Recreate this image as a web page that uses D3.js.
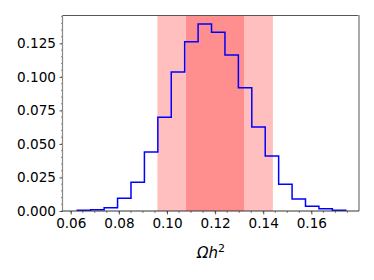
<!DOCTYPE html>
<meta charset="utf-8">
<style>
body { margin: 0; background: #fff; }
text { font-family: "DejaVu Sans", sans-serif; }
</style>
<body>
<script src="https://d3js.org/d3.v7.min.js"></script>
<div id="draw"></div>
<script>

// histogram: bin edges start/width, heights
var binStart = 0.0627,
    binWidth = 0.00558;
var counts = [0.0005, 0.001, 0.0025, 0.0095, 0.0214, 0.044, 0.0699, 0.1037, 0.1263, 0.1394,
              0.1333, 0.1163, 0.092, 0.0626, 0.041, 0.0199, 0.0089, 0.0035, 0.0017, 0.0005];

// shaded intervals (2 sigma, 1 sigma)
var band2 = [0.096, 0.144];
var band1 = [0.1079, 0.132];

var xTicks = [0.06, 0.08, 0.10, 0.12, 0.14, 0.16];
var yTicks = [0.000, 0.025, 0.050, 0.075, 0.100, 0.125];

var margin = {top: 15, right: 15, bottom: 69, left: 63},
    width = 374 - margin.left - margin.right,
    height = 280 - margin.top - margin.bottom;

var x = d3.scaleLinear().domain([0.05676, 0.1798]).range([0, width]);
var y = d3.scaleLinear().domain([0, 0.1462]).range([height, 0]);

var svg = d3.select("#draw").append("svg")
    .attr("width", 374)
    .attr("height", 280)
  .append("g")
    .attr("transform", "translate(" + margin.left + "," + margin.top + ")");

// bands
svg.append("rect")
    .attr("x", x(band2[0]))
    .attr("width", x(band2[1]) - x(band2[0]))
    .attr("y", 0)
    .attr("height", height)
    .attr("fill", "#ffbfbf");
svg.append("rect")
    .attr("x", x(band1[0]))
    .attr("width", x(band1[1]) - x(band1[0]))
    .attr("y", 0)
    .attr("height", height)
    .attr("fill", "#ff8f8f");

// step line
var pts = [[binStart, 0]];
counts.forEach(function(c, i) {
  pts.push([binStart + i * binWidth, c]);
  pts.push([binStart + (i + 1) * binWidth, c]);
});
pts.push([binStart + counts.length * binWidth, 0]);

svg.append("path")
    .attr("d", d3.line().x(function(d) { return x(d[0]); }).y(function(d) { return y(d[1]); })(pts))
    .attr("fill", "none")
    .attr("stroke", "#0000ff")
    .attr("stroke-width", 1.5);

// minor ticks
var xMinor = d3.range(0.06, 0.1775, 0.005);
var yMinor = d3.range(0, 0.146, 0.005);

svg.append("g")
    .attr("transform", "translate(0," + height + ")")
    .selectAll("line").data(xMinor).enter().append("line")
    .attr("x1", function(d) { return x(d); }).attr("x2", function(d) { return x(d); })
    .attr("y1", 0).attr("y2", 2)
    .attr("stroke", "#333").attr("stroke-width", 0.6);

svg.append("g")
    .selectAll("line").data(yMinor).enter().append("line")
    .attr("y1", function(d) { return y(d); }).attr("y2", function(d) { return y(d); })
    .attr("x1", 0).attr("x2", -2)
    .attr("stroke", "#333").attr("stroke-width", 0.6);

// axes
var xAxis = svg.append("g")
    .attr("transform", "translate(0," + height + ")")
    .call(d3.axisBottom(x).tickValues(xTicks).tickFormat(d3.format(".2f")).tickSize(3.5).tickPadding(3.5));
var yAxis = svg.append("g")
    .call(d3.axisLeft(y).tickValues(yTicks).tickFormat(d3.format(".3f")).tickSize(3.5).tickPadding(3.5));

[xAxis, yAxis].forEach(function(a) {
  a.select(".domain").remove();
  a.selectAll("line").attr("stroke", "#333").attr("stroke-width", 0.8);
  a.selectAll("text").attr("font-size", 13.6).attr("fill", "#000")
    .attr("font-family", "DejaVu Sans, sans-serif");
});

// spines
svg.append("line").attr("x1", 0).attr("x2", width).attr("y1", 0.5).attr("y2", 0.5)
    .attr("stroke", "#555").attr("stroke-width", 1.2);
svg.append("line").attr("x1", -0.5).attr("x2", -0.5).attr("y1", 0).attr("y2", height)
    .attr("stroke", "#888").attr("stroke-width", 1.2);
svg.append("line").attr("x1", width).attr("x2", width).attr("y1", 0).attr("y2", height)
    .attr("stroke", "#aaa").attr("stroke-width", 2);
svg.append("line").attr("x1", 0).attr("x2", width).attr("y1", height).attr("y2", height)
    .attr("stroke", "#333").attr("stroke-width", 1);

// x label
var lab = svg.append("text")
    .attr("x", width / 2)
    .attr("y", height + 47)
    .attr("text-anchor", "middle")
    .attr("font-size", 15)
    .attr("font-style", "italic")
    .attr("fill", "#000");
lab.append("tspan").text("Ωh");
lab.append("tspan").attr("font-style", "normal").attr("font-size", 11).attr("dy", -6).text("2");

</script>
</body>
